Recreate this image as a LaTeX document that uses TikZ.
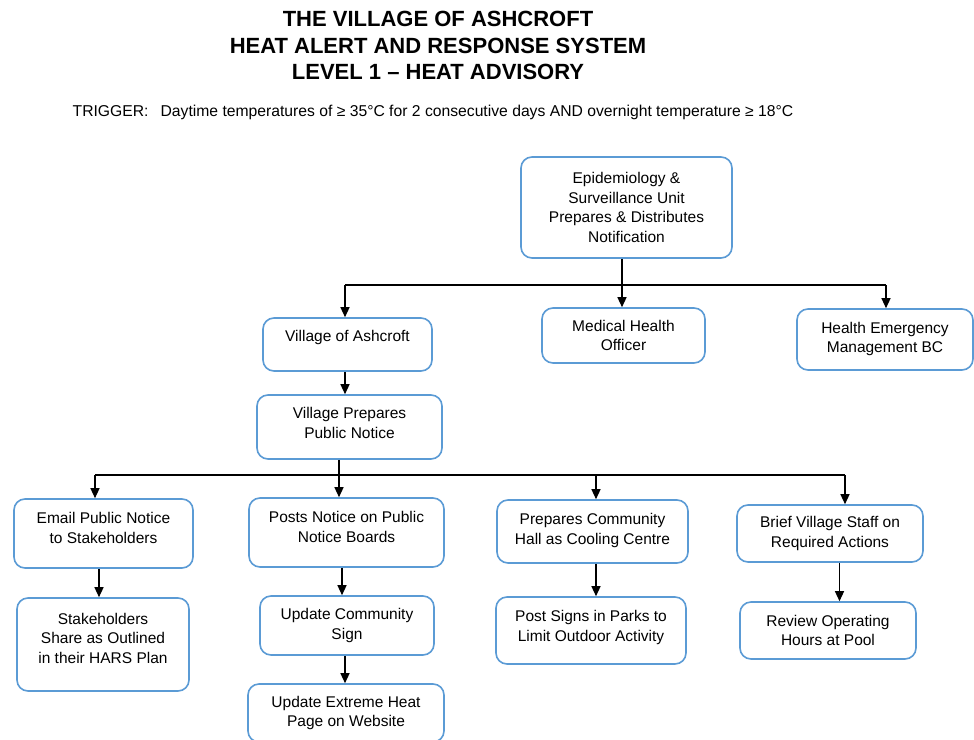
\documentclass[tikz,border=0pt]{standalone}
\usepackage{fontspec}
\setmainfont{Liberation Sans}
\usetikzlibrary{arrows.meta}
\definecolor{boxblue}{RGB}{91,155,213}
\newcommand\xdeep[1]{\rule[-#1pt]{0pt}{#1pt}}
\begin{document}
\begin{tikzpicture}[x=1pt,y=-1pt,
  box/.style={draw=boxblue, line width=1.6pt, rounded corners=11pt, align=center,
    font=\fontsize{15.5}{19.5}\selectfont, inner sep=0pt},
  arr/.style={line width=1.3pt, -{Triangle[length=10pt,width=9pt]}},
  ln/.style={line width=1.3pt}]
\useasboundingbox[fill=white] (0,0) rectangle (974,739);

\node[align=center, anchor=north, inner sep=0pt, font=\bfseries\fontsize{22}{26.5}\selectfont] (title) at (438,11)
  {THE VILLAGE OF ASHCROFT\\HEAT ALERT AND RESPONSE SYSTEM\\LEVEL 1 -- HEAT ADVISORY};
\node[anchor=base west, inner sep=0pt, font=\fontsize{15.7}{19}\selectfont] (trigger) at (72.5,116)
  {TRIGGER:\hspace{12pt}Daytime temperatures of ≥ 35°C for 2 consecutive days AND overnight temperature ≥ 18°C};

\node[box, minimum width=211pt, minimum height=101pt] (epi) at (626.5,207.5)
  {Epidemiology \&\\Surveillance Unit\\Prepares \& Distributes\\Notification};
\node[box, minimum width=169pt, minimum height=53pt] (voa) at (347.5,344.5)
  {Village of Ashcroft\xdeep{17}};
\node[box, minimum width=163pt, minimum height=55pt] (mho) at (623.5,335.5)
  {Medical Health\\Officer};
\node[box, minimum width=176pt, minimum height=61pt] (hem) at (885,339.5)
  {Health Emergency\\Management BC\xdeep{4}};
\node[box, minimum width=185pt, minimum height=64pt] (vppn) at (349.5,427)
  {Village Prepares\\Public Notice\xdeep{8}};
\node[box, minimum width=179pt, minimum height=69pt] (email) at (103.5,533.5)
  {Email Public Notice\\to Stakeholders\xdeep{11}};
\node[box, minimum width=195pt, minimum height=69pt] (posts) at (346.5,532.5)
  {Posts Notice on Public\\Notice Boards\xdeep{11}};
\node[box, minimum width=191pt, minimum height=63pt] (prep) at (592.5,531.5)
  {Prepares Community\\Hall as Cooling Centre\xdeep{5}};
\node[box, minimum width=186pt, minimum height=57pt] (brief) at (830,533.5)
  {Brief Village Staff on\\Required Actions};
\node[box, minimum width=172pt, minimum height=93pt] (stake) at (103,644.5)
  {Stakeholders\\Share as Outlined\\in their HARS Plan\xdeep{13}};
\node[box, minimum width=174pt, minimum height=59pt] (ucs) at (347,625.5)
  {Update Community\\Sign\xdeep{3}};
\node[box, minimum width=196pt, minimum height=58pt] (ueh) at (346,713)
  {Update Extreme Heat\\Page on Website};
\node[box, minimum width=190pt, minimum height=67pt] (psp) at (591,630.5)
  {Post Signs in Parks to\\Limit Outdoor Activity\xdeep{9}};
\node[box, minimum width=176pt, minimum height=57pt] (roh) at (828,630.5)
  {Review Operating\\Hours at Pool};

% first level
\coordinate (v1) at (345,285);
\coordinate (h1) at (886,285);
\draw[ln] (v1) -- (h1);
\draw[arr] (v1) -- (v1 |- voa.north);
\draw[arr] (h1) -- (h1 |- hem.north);
\draw[arr] ([xshift=-4.5pt]epi.south) -- ([xshift=-4.5pt]epi.south |- mho.north);
\draw[arr] ([xshift=-2.5pt]voa.south) -- ([xshift=-2.5pt]voa.south |- vppn.north);

% second level
\coordinate (s0) at (339,475);
\coordinate (s1) at (95,475);
\coordinate (s2) at (596,475);
\coordinate (s3) at (845,475);
\draw[ln] (s0 |- vppn.south) -- (s0);
\draw[ln] (s1) -- (s3);
\draw[arr] (s1) -- (s1 |- email.north);
\draw[arr] (s0) -- (s0 |- posts.north);
\draw[arr] (s2) -- (s2 |- prep.north);
\draw[arr] (s3) -- (s3 |- brief.north);

% third level
\draw[arr] ([xshift=-4.5pt]email.south) -- ([xshift=-4.5pt]email.south |- stake.north);
\draw[arr] ([xshift=-4.5pt]posts.south) -- ([xshift=-4.5pt]posts.south |- ucs.north);
\draw[arr] ([xshift=-2pt]ucs.south) -- ([xshift=-2pt]ucs.south |- ueh.north);
\draw[arr] ([xshift=3.5pt]prep.south) -- ([xshift=3.5pt]prep.south |- psp.north);
\draw[arr] ([xshift=9.5pt]brief.south) -- ([xshift=9.5pt]brief.south |- roh.north);
\end{tikzpicture}
\end{document}
